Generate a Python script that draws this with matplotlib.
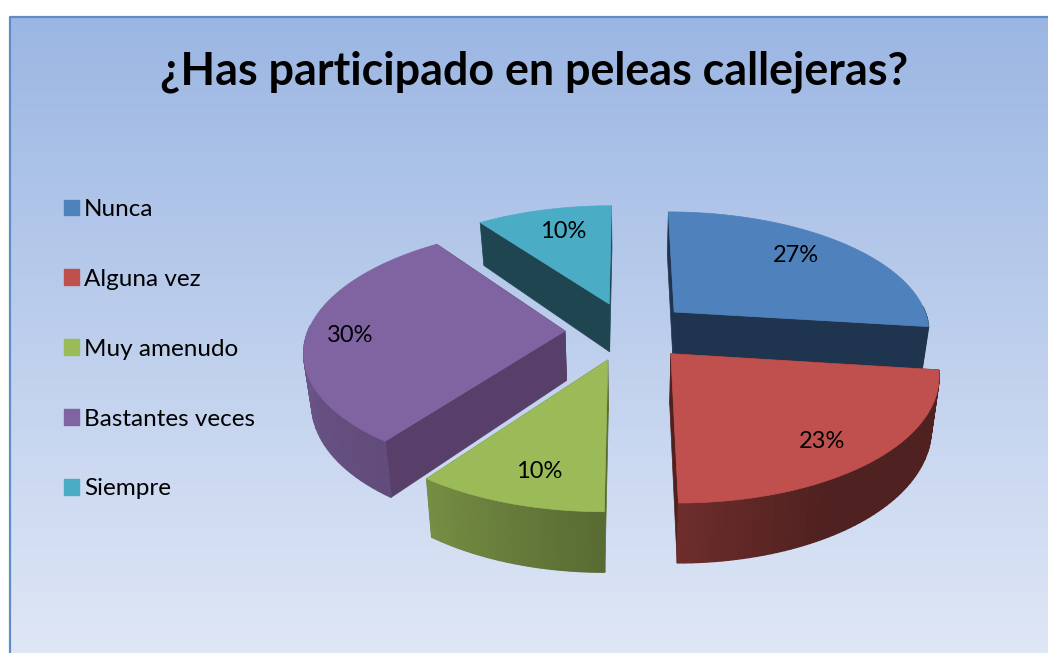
#!/usr/bin/env python3
import matplotlib
matplotlib.use("Agg")
import matplotlib.pyplot as plt
import numpy as np
from matplotlib.colors import LinearSegmentedColormap, to_rgb
from matplotlib.patches import Patch, Polygon

plt.rcParams["font.family"] = ["Lato", "DejaVu Sans"]

TITLE = "¿Has participado en peleas callejeras?"
categories = ["Nunca", "Alguna vez", "Muy amenudo", "Bastantes veces", "Siempre"]
values = [27, 23, 10, 30, 10]
labels = ["27%", "23%", "10%", "30%", "10%"]
colors = ["#4f81bd", "#c0504d", "#9bbb59", "#8064a2", "#4bacc6"]
cut_colors = ["#1f344e", "#4f201f", "#5a6b32", "#573f69", "#1f4650"]
label_xy = [(796, 256), (822, 442), (539, 472), (350, 335), (563, 232)]

W, H = 1048, 653
CX, CY = 628, 331      # pie centre on screen
RX, RY = 257, 120      # disc radii
PERSP = 0.147          # depth foreshortening
EXPLODE = 0.245
DROP = 49.5            # pie thickness
BOTTOM_SCALE = 0.975


def project(u, v, drop=0.0):
    s = 1 / (1 + PERSP * v)
    k = BOTTOM_SCALE if drop else 1.0
    return CX + RX * u * s * k, CY - RY * v * s + drop * s


def shade(color, deg):
    f = np.interp(deg, [90, 150, 180, 216, 270, 360], [.41, .41, .57, .76, .85, .85])
    return tuple(c * f for c in to_rgb(color))


def draw_slice(ax, start, end, color, cut_color):
    mid = np.radians((start + end) / 2)
    ou, ov = EXPLODE * np.sin(mid), EXPLODE * np.cos(mid)
    degs = np.linspace(start, end, 60)
    us = ou + np.sin(np.radians(degs))
    vs = ov + np.cos(np.radians(degs))

    # radial cut faces first, the top hides the ones facing away
    for i in (0, -1):
        quad = [project(ou, ov), project(us[i], vs[i]),
                project(us[i], vs[i], DROP), project(ou, ov, DROP)]
        ax.add_patch(Polygon(quad, closed=True, fc=cut_color, ec=cut_color, lw=0.5))

    # outer rim as thin quads so it can carry a gradient, front half only
    for i in range(len(degs) - 1):
        if not 86 <= degs[i] <= 272:
            continue
        quad = [project(us[i], vs[i]), project(us[i + 1], vs[i + 1]),
                project(us[i + 1], vs[i + 1], DROP), project(us[i], vs[i], DROP)]
        c = shade(color, degs[i])
        ax.add_patch(Polygon(quad, closed=True, fc=c, ec=c, lw=1.0))

    top = [project(ou, ov)] + [project(u, v) for u, v in zip(us, vs)]
    ax.add_patch(Polygon(top, closed=True, fc=color, ec=color, lw=0.5))


def main():
    fig = plt.figure(figsize=(W / 100, H / 100), dpi=100, facecolor="white")
    ax = fig.add_axes([0, 0, 1, 1])
    ax.set_xlim(0, W)
    ax.set_ylim(H, 0)
    ax.axis("off")

    # panel background
    cmap = LinearSegmentedColormap.from_list("bg", ["#9bb6e3", "#dfe7f6"])
    ax.imshow(np.linspace(0, 1, 256)[:, None], cmap=cmap, aspect="auto",
              extent=(9, W, H, 16), zorder=0)
    ax.set_xlim(0, W)
    ax.set_ylim(H, 0)
    ax.plot([9.5, 9.5, W], [H, 16.5, 16.5], color="#5f8dc8", lw=1.6, zorder=1)

    ends = np.cumsum(values) / np.sum(values) * 360
    starts = np.concatenate(([0], ends[:-1]))
    for i in (4, 0, 3, 2, 1):  # back to front
        draw_slice(ax, starts[i], ends[i], colors[i], cut_colors[i])

    for (x, y), text in zip(label_xy, labels):
        ax.text(x, y, text, fontsize=17, color="black", ha="center", va="center")

    ax.text(534, 72, TITLE, fontsize=32.3, fontweight="bold", color="black",
            ha="center", va="center")

    handles = [Patch(fc=c, ec=c) for c in colors]
    ax.legend(handles, categories, loc="upper left", bbox_to_anchor=(64, 199),
              bbox_transform=ax.transData, frameon=False, fontsize=17.5,
              handlelength=0.62, handleheight=0.62, handletextpad=0.2,
              labelspacing=2.01, borderpad=0, borderaxespad=0)

    fig.savefig("out.png", dpi=100)


if __name__ == "__main__":
    main()
